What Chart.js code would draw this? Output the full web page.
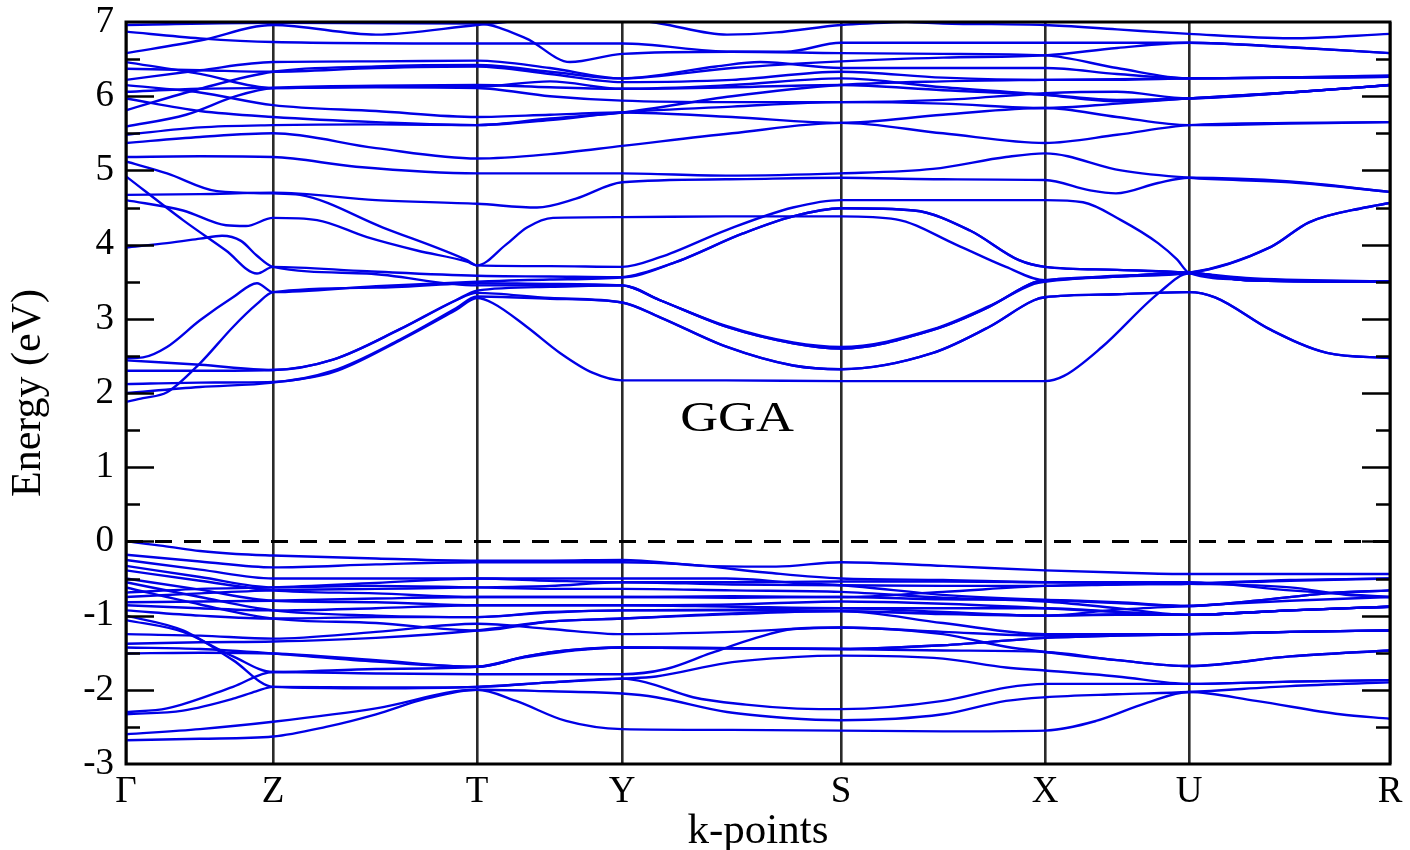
<!DOCTYPE html>
<html><head><meta charset="utf-8">
<script src="https://cdn.jsdelivr.net/npm/chart.js@4.4.1/dist/chart.umd.min.js"></script>
<style>html,body{margin:0;padding:0;background:#fff;}#wrap{width:1410px;height:850px;}</style>
</head><body><div id="wrap"><canvas id="c" width="1410" height="850"></canvas></div>
<script>
// High-symmetry path
const kLabels = ['Γ','Z','T','Y','S','X','U','R'];
const kPositions = [0,147,351,496,715,919,1063,1264];
const energyMin = -3, energyMax = 7;
const fermiLevel = 0;
const bandLabel = 'GGA';
const bandLabelAt = [611, 1.63];

// Conduction bands, lower group: [k, E(eV)]
const condLow = [
 [[0,1.88],[17,1.93],[41,2.01],[74,2.4],[107,2.89],[131,3.2],[147,3.36],[250,3.42],[351,3.48],[424,3.47],[496,3.45],[534,3.25],[601,2.89],[667,2.67],[715,2.6],[807,2.85],[863,3.16],[908,3.49],[919,3.52],[991,3.57],[1063,3.62],[1120,3.52],[1264,3.5]],
 [[0,2.47],[17,2.48],[41,2.62],[74,2.98],[107,3.29],[131,3.48],[147,3.36],[250,3.44],[351,3.5],[424,3.53],[496,3.56],[547,3.75],[617,4.15],[667,4.38],[715,4.49],[788,4.46],[844,4.19],[893,3.79],[919,3.7],[991,3.66],[1063,3.62],[1120,3.53],[1264,3.5]],
 [[0,3.96],[41,4.02],[74,4.08],[96,4.12],[115,4.05],[131,3.85],[147,3.7],[241,3.61],[351,3.45],[424,3.45],[496,3.45],[534,3.25],[601,2.9],[667,2.68],[715,2.62],[807,2.86],[863,3.17],[908,3.47],[919,3.5],[991,3.57],[1063,3.62],[1145,3.97],[1183,4.3],[1239,4.5],[1264,4.56]],
 [[0,4.92],[57,4.33],[100,3.92],[131,3.61],[147,3.7],[241,3.64],[351,3.58],[424,3.57],[496,3.56],[547,3.75],[617,4.15],[667,4.38],[715,4.49],[788,4.46],[844,4.19],[893,3.79],[919,3.7],[991,3.66],[1063,3.62],[1120,3.55],[1264,3.5]],
 [[0,2.0],[74,2.08],[147,2.14],[207,2.28],[274,2.71],[330,3.12],[351,3.28],[367,3.21],[401,2.89],[434,2.54],[467,2.27],[496,2.17],[600,2.17],[715,2.16],[919,2.16],[938,2.23],[976,2.62],[1032,3.34],[1063,3.61],[1120,3.52],[1264,3.5]],
 [[0,2.12],[74,2.14],[147,2.15],[207,2.3],[274,2.72],[330,3.14],[351,3.3],[424,3.27],[496,3.22],[534,3.02],[601,2.62],[667,2.37],[715,2.32],[807,2.54],[863,2.89],[908,3.25],[919,3.29],[991,3.33],[1063,3.36],[1089,3.29],[1145,2.85],[1201,2.54],[1264,2.47]],
 [[0,2.3],[74,2.3],[147,2.31],[207,2.45],[274,2.86],[330,3.25],[351,3.38],[424,3.43],[496,3.45],[534,3.25],[601,2.89],[667,2.67],[715,2.6],[807,2.85],[863,3.16],[908,3.49],[919,3.52],[991,3.57],[1063,3.62],[1120,3.52],[1264,3.5]],
 [[0,2.44],[74,2.38],[147,2.31],[207,2.45],[274,2.86],[330,3.25],[351,3.35],[424,3.28],[496,3.22],[534,3.02],[601,2.62],[667,2.37],[715,2.32],[807,2.54],[863,2.89],[908,3.25],[919,3.29],[991,3.33],[1063,3.36],[1089,3.29],[1145,2.85],[1201,2.54],[1264,2.47]],
 [[0,4.6],[57,4.46],[100,4.26],[120,4.25],[147,4.36],[191,4.33],[241,4.1],[291,3.92],[341,3.77],[351,3.72],[380,4.0],[401,4.23],[427,4.36],[496,4.37],[600,4.38],[715,4.38],[770,4.34],[830,4.0],[880,3.7],[919,3.52],[991,3.58],[1063,3.62],[1145,3.97],[1183,4.3],[1239,4.5],[1264,4.56]],
 [[0,5.12],[41,4.96],[91,4.72],[147,4.69],[174,4.67],[257,4.23],[341,3.79],[351,3.72],[424,3.71],[496,3.7],[534,3.83],[601,4.2],[667,4.5],[715,4.6],[800,4.6],[919,4.6],[957,4.57],[995,4.33],[1032,4.02],[1051,3.8],[1063,3.62],[1120,3.53],[1264,3.5]],
 [[0,4.67],[74,4.68],[147,4.7],[250,4.6],[351,4.55],[411,4.5],[450,4.62],[496,4.84],[600,4.88],[715,4.9],[817,4.88],[919,4.87],[964,4.73],[990,4.69],[1032,4.83],[1063,4.9],[1164,4.85],[1264,4.71]],
 [[0,5.18],[74,5.19],[147,5.18],[230,5.05],[351,4.96],[424,4.96],[496,4.96],[600,4.93],[715,4.96],[807,5.02],[880,5.18],[919,5.23],[995,5.0],[1063,4.9],[1164,4.84],[1264,4.71]],
 [[0,5.37],[74,5.45],[147,5.5],[250,5.3],[351,5.16],[424,5.22],[496,5.33],[606,5.5],[715,5.64],[817,5.5],[919,5.37],[991,5.48],[1063,5.61],[1164,5.64],[1264,5.65]]
];

// Conduction bands, upper group
const condHigh = [
 [[0,6.96],[147,6.99],[351,6.98],[400,6.78],[444,6.46],[496,6.57],[606,6.6],[715,6.58],[817,6.57],[919,6.55],[991,6.38],[1063,6.24],[1264,6.28]],
 [[0,7.2],[147,7.15],[351,7.1],[496,7.05],[534,6.98],[601,6.83],[650,6.86],[715,6.96],[817,7.02],[919,7.1],[1063,7.15],[1264,7.2]],
 [[0,6.87],[74,6.78],[147,6.73],[351,6.71],[496,6.71],[606,6.6],[660,6.6],[715,6.72],[919,6.72],[1063,6.72],[1164,6.66],[1264,6.58]],
 [[0,6.58],[74,6.75],[147,6.96],[250,6.83],[351,6.96],[420,7.05],[496,7.1],[715,7.05],[817,6.98],[919,6.96],[991,6.9],[1063,6.84],[1164,6.78],[1264,6.84]],
 [[0,6.46],[74,6.3],[147,6.11],[250,6.13],[351,6.13],[424,6.2],[496,6.1],[606,6.15],[715,6.24],[817,6.12],[919,6.02],[991,5.93],[1063,5.97],[1164,6.05],[1264,6.15]],
 [[0,6.37],[74,6.35],[147,6.33],[250,6.38],[351,6.4],[424,6.3],[496,6.19],[606,6.22],[715,6.33],[817,6.25],[919,6.22],[991,6.22],[1063,6.24],[1164,6.25],[1264,6.26]],
 [[0,6.22],[74,6.35],[147,6.46],[250,6.47],[351,6.48],[424,6.38],[496,6.24],[590,6.4],[634,6.46],[715,6.38],[817,6.38],[919,6.38],[991,6.3],[1063,6.24],[1164,6.25],[1264,6.26]],
 [[0,6.15],[74,6.05],[147,5.88],[250,5.8],[351,5.72],[424,5.75],[496,5.78],[606,5.72],[715,5.64],[817,5.75],[919,5.84],[991,5.72],[1063,5.61],[1164,5.63],[1264,5.65]],
 [[0,6.06],[74,6.1],[147,6.11],[250,6.12],[351,6.11],[424,6.0],[496,5.94],[606,5.92],[715,5.92],[817,5.95],[919,6.04],[991,6.06],[1063,5.97],[1164,6.05],[1264,6.15]],
 [[0,5.97],[74,5.8],[147,5.72],[250,5.65],[351,5.61],[424,5.7],[496,5.78],[606,6.0],[715,6.15],[817,6.2],[919,6.22],[991,6.23],[1063,6.24],[1164,6.25],[1264,6.26]],
 [[0,5.81],[74,6.1],[147,6.33],[250,6.4],[351,6.42],[424,6.33],[496,6.24],[606,6.38],[715,6.47],[817,6.52],[919,6.55],[991,6.65],[1063,6.72],[1164,6.66],[1264,6.58]],
 [[0,5.48],[74,5.58],[147,5.61],[250,5.62],[351,5.61],[424,5.68],[496,5.78],[606,5.86],[715,5.92],[817,5.9],[919,5.84],[991,5.9],[1063,5.97],[1164,6.05],[1264,6.15]],
 [[0,5.59],[60,5.75],[110,6.0],[147,6.11],[250,6.14],[351,6.15],[424,6.12],[496,6.1],[606,6.12],[715,6.15],[817,6.08],[919,6.02],[991,5.95],[1063,5.97],[1164,6.05],[1264,6.15]]
];

// Valence bands, upper group
const valUpper = [
 [[0,0],[37,-0.06],[74,-0.13],[110,-0.17],[147,-0.19],[250,-0.23],[351,-0.26],[424,-0.26],[496,-0.25],[580,-0.33],[650,-0.34],[715,-0.28],[817,-0.33],[919,-0.39],[991,-0.42],[1063,-0.44],[1164,-0.44],[1264,-0.44]],
 [[0,-0.18],[74,-0.27],[147,-0.35],[250,-0.31],[351,-0.28],[496,-0.28],[560,-0.31],[640,-0.42],[715,-0.5],[817,-0.52],[919,-0.55],[991,-0.55],[1063,-0.55],[1164,-0.66],[1264,-0.75]],
 [[0,-0.25],[74,-0.38],[147,-0.5],[250,-0.5],[351,-0.5],[424,-0.5],[496,-0.5],[600,-0.5],[680,-0.57],[715,-0.59],[817,-0.72],[919,-0.79],[991,-0.83],[1063,-0.87],[1130,-0.8],[1200,-0.7],[1264,-0.66]],
 [[0,-0.33],[74,-0.48],[147,-0.62],[250,-0.6],[351,-0.62],[424,-0.64],[496,-0.64],[606,-0.66],[715,-0.68],[817,-0.76],[919,-0.81],[991,-0.9],[1063,-0.99],[1164,-0.93],[1264,-0.88]],
 [[0,-0.39],[74,-0.53],[147,-0.66],[250,-0.7],[351,-0.75],[424,-0.75],[496,-0.75],[606,-0.74],[715,-0.75],[817,-0.68],[919,-0.6],[991,-0.58],[1063,-0.57],[1164,-0.52],[1264,-0.5]],
 [[0,-0.5],[74,-0.65],[147,-0.8],[250,-0.82],[351,-0.86],[424,-0.86],[496,-0.86],[606,-0.85],[715,-0.81],[817,-0.84],[919,-0.9],[991,-0.95],[1063,-0.99],[1164,-0.93],[1264,-0.88]],
 [[0,-0.55],[74,-0.75],[147,-0.93],[250,-1.0],[351,-1.02],[424,-0.95],[496,-0.93],[606,-0.92],[715,-0.9],[817,-0.95],[919,-1.0],[991,-0.92],[1063,-0.87],[1164,-0.8],[1264,-0.75]],
 [[0,-0.62],[74,-0.85],[147,-1.04],[250,-1.1],[351,-1.2],[424,-1.08],[496,-1.04],[606,-0.97],[715,-0.94],[817,-1.1],[919,-1.25],[991,-1.25],[1063,-1.25],[1164,-1.22],[1264,-1.2]],
 [[0,-0.69],[74,-0.64],[147,-0.62],[250,-0.56],[351,-0.5],[424,-0.53],[496,-0.55],[606,-0.55],[715,-0.54],[817,-0.54],[919,-0.55],[991,-0.56],[1063,-0.57],[1164,-0.62],[1220,-0.72],[1264,-0.75]],
 [[0,-0.75],[74,-0.7],[147,-0.66],[250,-0.64],[351,-0.62],[424,-0.6],[496,-0.55],[606,-0.58],[715,-0.59],[817,-0.6],[919,-0.6],[991,-0.58],[1063,-0.57],[1164,-0.53],[1264,-0.5]],
 [[0,-0.82],[74,-0.81],[147,-0.8],[250,-0.77],[351,-0.75],[424,-0.75],[496,-0.75],[606,-0.76],[715,-0.75],[817,-0.78],[919,-0.79],[991,-0.82],[1063,-0.87],[1130,-0.8],[1200,-0.7],[1264,-0.66]],
 [[0,-0.86],[74,-0.9],[147,-0.93],[250,-0.9],[351,-0.86],[424,-0.86],[496,-0.86],[606,-0.88],[715,-0.9],[817,-0.9],[919,-0.9],[991,-0.95],[1063,-0.99],[1164,-0.93],[1264,-0.88]],
 [[0,-0.93],[74,-1.0],[147,-1.04],[250,-1.02],[351,-1.02],[424,-0.96],[496,-0.93],[606,-0.93],[715,-0.94],[817,-0.97],[919,-1.0],[991,-0.98],[1063,-0.99],[1164,-0.93],[1264,-0.88]]
];

// Valence bands, middle group
const valMid = [
 [[0,-1.25],[74,-1.27],[147,-1.31],[250,-1.22],[351,-1.11],[424,-1.18],[496,-1.25],[606,-1.22],[715,-1.16],[817,-1.22],[919,-1.27],[991,-1.26],[1063,-1.25],[1164,-1.22],[1264,-1.2]],
 [[0,-1.38],[74,-1.36],[147,-1.35],[250,-1.3],[351,-1.2],[424,-1.08],[496,-1.04],[606,-0.98],[715,-0.94],[817,-0.98],[919,-1.0],[991,-0.99],[1063,-0.99],[1164,-0.93],[1264,-0.88]],
 [[0,-1.51],[74,-1.5],[147,-1.51],[250,-1.6],[351,-1.69],[400,-1.55],[440,-1.47],[496,-1.43],[606,-1.44],[715,-1.45],[817,-1.4],[919,-1.3],[991,-1.27],[1063,-1.25],[1164,-1.22],[1264,-1.2]],
 [[0,-1.43],[74,-1.45],[147,-1.51],[250,-1.62],[351,-1.69],[400,-1.56],[496,-1.43],[606,-1.44],[715,-1.45],[817,-1.47],[919,-1.49],[991,-1.6],[1063,-1.68],[1164,-1.55],[1264,-1.47]]
];

// Valence bands, deep group
const valDeep = [
 [[0,-2.68],[74,-2.66],[147,-2.63],[200,-2.5],[250,-2.33],[300,-2.12],[351,-2.0],[390,-2.15],[440,-2.42],[496,-2.53],[606,-2.54],[715,-2.55],[817,-2.56],[919,-2.55],[970,-2.42],[1020,-2.18],[1063,-2.03],[1130,-2.15],[1214,-2.33],[1264,-2.39]],
 [[0,-2.6],[74,-2.53],[147,-2.43],[250,-2.25],[351,-2.0],[424,-2.02],[496,-2.05],[530,-2.1],[601,-2.3],[660,-2.38],[715,-2.41],[817,-2.33],[880,-2.15],[919,-2.1],[991,-2.06],[1063,-2.03],[1164,-1.95],[1264,-1.9]],
 [[0,-2.3],[41,-2.25],[107,-1.96],[147,-1.76],[250,-1.78],[351,-1.79],[424,-1.79],[496,-1.79],[540,-1.72],[584,-1.51],[630,-1.3],[667,-1.18],[715,-1.16],[817,-1.25],[880,-1.42],[919,-1.49],[991,-1.6],[1063,-1.68],[1164,-1.55],[1264,-1.47]],
 [[0,-2.33],[57,-2.28],[107,-2.12],[130,-2.02],[147,-1.96],[250,-1.97],[351,-1.96],[424,-1.9],[496,-1.85],[520,-1.9],[567,-2.1],[620,-2.2],[667,-2.25],[715,-2.26],[817,-2.15],[880,-1.97],[919,-1.92],[991,-1.92],[1063,-1.92],[1164,-1.89],[1264,-1.87]],
 [[0,-1.0],[57,-1.2],[107,-1.6],[147,-1.96],[250,-1.98],[351,-1.96],[424,-1.9],[496,-1.85],[530,-1.82],[600,-1.64],[667,-1.56],[715,-1.54],[817,-1.58],[880,-1.7],[919,-1.74],[991,-1.82],[1063,-1.92],[1164,-1.89],[1264,-1.87]],
 [[0,-1.06],[57,-1.22],[107,-1.55],[147,-1.76],[250,-1.72],[351,-1.69],[400,-1.55],[440,-1.47],[496,-1.43],[606,-1.44],[715,-1.45],[817,-1.4],[919,-1.3],[991,-1.27],[1063,-1.25],[1164,-1.22],[1264,-1.2]]
];

const bandColor = '#0000e6';
const allBands = [].concat(condLow, condHigh, valUpper, valMid, valDeep);

const datasets = [{
  data: [{x: kPositions[0], y: fermiLevel}, {x: kPositions[kPositions.length-1], y: fermiLevel}],
  borderColor: '#000', borderWidth: 3, borderDash: [17, 12], pointRadius: 0, fill: false, clip: 0
}].concat(allBands.map(b => ({
  data: b.map(p => ({x: p[0], y: p[1]})),
  borderColor: bandColor, borderWidth: 2.4, pointRadius: 0, fill: false,
  cubicInterpolationMode: 'monotone', clip: 0
})));

const serif = 'Liberation Serif';

const framePlugin = {
  id: 'frame',
  afterDatasetsDraw(chart) {
    const {ctx, chartArea: a, scales: {x, y}} = chart;
    ctx.save();
    ctx.strokeStyle = '#000';
    ctx.lineWidth = 2.5;
    ctx.beginPath();
    for (let v = energyMin; v <= energyMax; v += 0.5) {
      if (v === energyMin || v === energyMax) continue;
      const py = Math.round(y.getPixelForValue(v)) + 0.5;
      const len = Number.isInteger(v) ? 28 : 14;
      ctx.moveTo(a.left, py); ctx.lineTo(a.left + len, py);
      ctx.moveTo(a.right, py); ctx.lineTo(a.right - len, py);
    }
    ctx.stroke();
    ctx.lineWidth = 3;
    ctx.strokeRect(a.left, a.top, a.right - a.left, a.bottom - a.top);
    // band-gap label
    ctx.fillStyle = '#000';
    ctx.font = '42px "' + serif + '"';
    ctx.textAlign = 'center';
    ctx.textBaseline = 'middle';
    const gx = x.getPixelForValue(bandLabelAt[0]), gy = y.getPixelForValue(bandLabelAt[1]);
    ctx.translate(gx, gy);
    ctx.scale(1.25, 1);
    ctx.fillText(bandLabel, 0, 0);
    ctx.restore();
  }
};

new Chart(document.getElementById('c'), {
  type: 'line',
  data: {datasets},
  options: {
    responsive: false, animation: false, devicePixelRatio: 1,
    parsing: false,
    layout: {padding: {top: 22, right: 20, left: 0, bottom: 0}},
    plugins: {legend: {display: false}, tooltip: {enabled: false}},
    scales: {
      x: {
        type: 'linear', min: kPositions[0], max: kPositions[kPositions.length-1],
        afterBuildTicks: s => { s.ticks = kPositions.map(v => ({value: v})); },
        ticks: {callback: (v, i) => kLabels[i], font: {family: serif, size: 37}, color: '#000', padding: 6, maxRotation: 0, autoSkip: false},
        grid: {color: '#2a2a2a', lineWidth: 2.6, drawTicks: false},
        border: {display: false},
        title: {display: true, text: 'k-points', font: {family: serif, size: 43, lineHeight: 0.85}, color: '#000', padding: {top: 0, bottom: 0}},
        afterFit: s => { s.height = 86; }
      },
      y: {
        min: energyMin, max: energyMax,
        ticks: {stepSize: 1, font: {family: serif, size: 37, lineHeight: 0.5}, color: '#000', padding: 12},
        grid: {drawOnChartArea: false, drawTicks: false},
        border: {display: false},
        title: {display: true, text: 'Energy (eV)', font: {family: serif, size: 42}, color: '#000', padding: {top: 4, bottom: 0}},
        afterFit: s => { s.width = 126; }
      }
    }
  },
  plugins: [framePlugin]
});
</script>
</body></html>
